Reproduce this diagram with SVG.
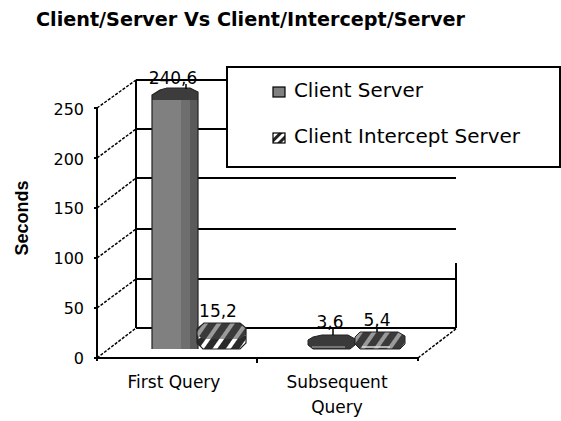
<svg xmlns="http://www.w3.org/2000/svg" width="561" height="421" viewBox="0 0 561 421">
<defs>
<pattern id="stripeTop" patternUnits="userSpaceOnUse" width="11" height="11" patternTransform="rotate(35)">
<rect width="11" height="11" fill="#3a3a3a"/>
<rect width="4" height="11" fill="#9a9a9a"/>
</pattern>
<pattern id="stripeSide" patternUnits="userSpaceOnUse" width="11" height="11" patternTransform="rotate(35)">
<rect width="11" height="11" fill="#2a2a2a"/>
<rect width="4" height="11" fill="#ffffff"/>
</pattern>
<pattern id="legStripe" patternUnits="userSpaceOnUse" width="6" height="6" patternTransform="rotate(45)">
<rect width="6" height="6" fill="#222"/>
<rect width="3" height="6" fill="#fff"/>
</pattern>
</defs>
<style>
.ax{stroke:#000;stroke-width:2;fill:none}
.dl{stroke:#000;stroke-width:1.5;fill:none;stroke-dasharray:3,1.5}
.t{font-family:"DejaVu Sans",sans-serif;fill:#000}
.num{font-size:16px;text-anchor:end}
.lbl{font-size:17px;text-anchor:middle}
.leg{font-size:19px}
</style>
<rect width="561" height="421" fill="#fff"/>
<text class="t" x="36" y="26" font-size="19" font-weight="bold" textLength="429" lengthAdjust="spacingAndGlyphs">Client/Server Vs Client/Intercept/Server</text>
<text x="28" y="218" font-family="Liberation Sans, Arial, sans-serif" font-size="18" font-weight="bold" text-anchor="middle" transform="rotate(-90 28 218)">Seconds</text>
<g id="connectors">
<path class="ax" d="M136,80 H227 M136,129 H227 M136,178 H456 M136,229 H456 M136,279 H456 M136,328 H456 M456,263 V328 M136,80 V328"/>
<path class="ax" d="M97,108 V361 M94,108 H97 M94,158 H97 M94,208 H97 M94,258 H97 M94,308 H97 M94,358 H418 M257,358 V363 M418,358 V361"/>
<path class="dl" d="M97,108 L136,80 M97,158 L136,129 M97,208 L136,178 M97,258 L136,229 M97,308 L136,279 M97,358 L136,328 M418,358 L457,328"/>
</g>
<g id="bar-cs-first">
<rect x="152" y="98" width="29" height="251" fill="#808080"/>
<rect x="181" y="98" width="9" height="251" fill="#6e6e6e"/>
<rect x="190" y="98" width="8" height="251" fill="#5a5a5a"/>
<path d="M152,95 L160,90 L167,88 L190,88 L198,92 L198,100 L152,100 Z" fill="#3c3c3c"/>
<path d="M152,349 V95 L160,90 L167,88 L190,88 L198,92 V349" fill="none" stroke="#222" stroke-width="1.2"/>
<path d="M186,84 V89" stroke="#000" stroke-width="1.5"/>
</g>
<g id="bar-cis-first">
<path d="M203,336 L197,340 L197,343 L203,349 L240,349 L246,343 L246,336 Z" fill="url(#stripeSide)"/>
<path d="M204,323 L240,323 L246,328 L246,335 L240,339 L203,339 L197,335 L197,329 Z" fill="url(#stripeTop)"/>
<path d="M204,323 L240,323 L246,328 L246,343 L240,349 L203,349 L197,343 L197,329 Z" fill="none" stroke="#222" stroke-width="1.2"/>
</g>
<g id="bar-cs-sub">
<path d="M313,337 L322,335 L348,335 L355,339 L355,345 L350,349 L313,349 L308,345 L308,340 Z" fill="#3a3a3a" stroke="#222" stroke-width="1"/>
<path d="M312,347 H345" stroke="#8a8a8a" stroke-width="1.5"/>
<path d="M333,327 V335" stroke="#000" stroke-width="1.5"/>
</g>
<g id="bar-cis-sub">
<path d="M360,332 L398,332 L405,336 L405,344 L400,349 L360,349 L355,344 L355,337 Z" fill="url(#stripeTop)" stroke="#222" stroke-width="1"/>
<path d="M362,347 H390" stroke="#ddd" stroke-width="1.5"/>
<path d="M377,327 V332" stroke="#000" stroke-width="1.5"/>
</g>
<g id="value-labels">
<text class="t lbl" x="173" y="84">240,6</text>
<text class="t lbl" x="218" y="317">15,2</text>
<text class="t lbl" x="330" y="328">3,6</text>
<text class="t lbl" x="377" y="326">5,4</text>
</g>
<g id="axis-labels">
<text class="t num" x="84" y="115">250</text>
<text class="t num" x="84" y="165">200</text>
<text class="t num" x="84" y="214">150</text>
<text class="t num" x="84" y="264">100</text>
<text class="t num" x="84" y="314">50</text>
<text class="t num" x="84" y="364">0</text>
<text class="t lbl" x="174" y="388">First Query</text>
<text class="t lbl" x="337" y="388">Subsequent</text>
<text class="t lbl" x="337" y="413">Query</text>
</g>
<g id="legend">
<rect x="227" y="67" width="333" height="100" fill="#fff" stroke="#000" stroke-width="2"/>
<rect x="273" y="87" width="12" height="10" fill="#808080" stroke="#000" stroke-width="1.2"/>
<text class="t leg" x="294" y="97" textLength="129" lengthAdjust="spacingAndGlyphs">Client Server</text>
<rect x="273" y="133" width="12" height="10" fill="url(#legStripe)" stroke="#000" stroke-width="1.2"/>
<text class="t leg" x="294" y="143" textLength="226" lengthAdjust="spacingAndGlyphs">Client Intercept Server</text>
</g>
</svg>
